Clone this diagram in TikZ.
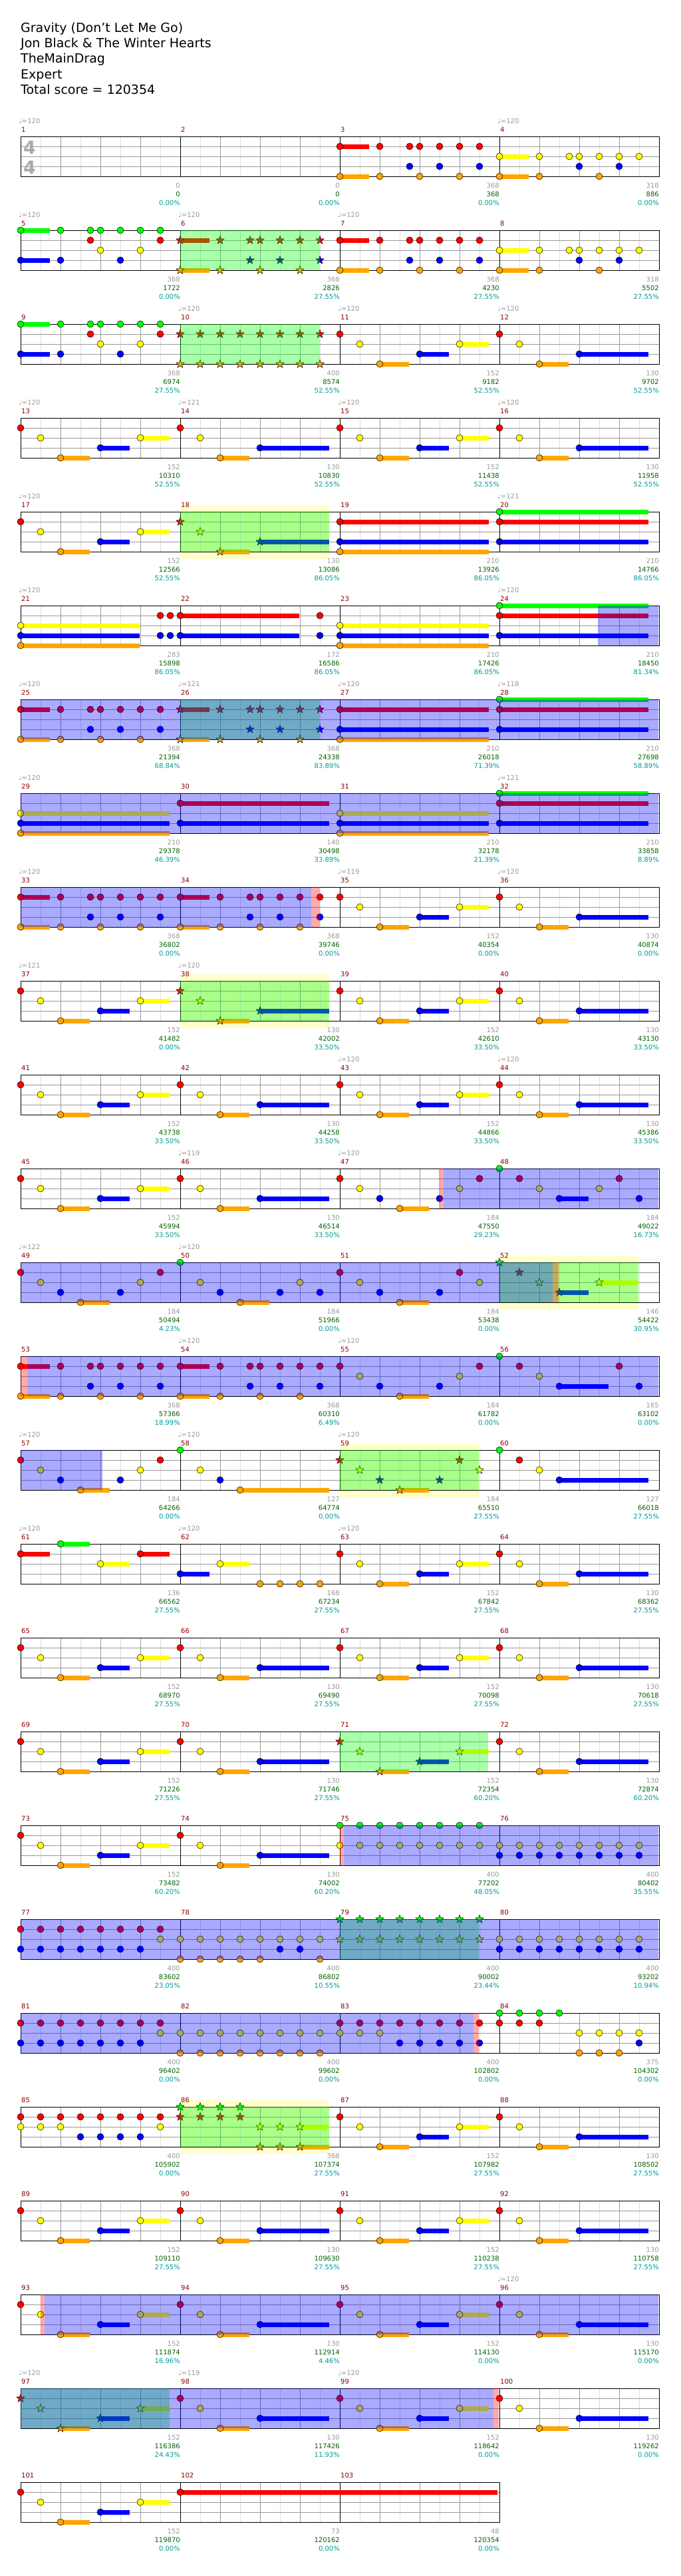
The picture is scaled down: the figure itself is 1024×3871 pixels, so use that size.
\documentclass[tikz,border=0pt]{standalone}
\usepackage{fontspec}
\setmainfont{DejaVu Sans}
\usetikzlibrary{shapes.geometric}

% lane colours: 1 green, 2 red, 3 yellow, 4 blue, 5 orange
\definecolor{lane1}{RGB}{0,255,0}
\definecolor{lane2}{RGB}{255,0,0}
\definecolor{lane3}{RGB}{255,255,0}
\definecolor{lane4}{RGB}{0,0,255}
\definecolor{lane5}{RGB}{255,165,0}
\definecolor{barnum}{RGB}{139,0,0}
\definecolor{basegray}{RGB}{153,153,153}
\definecolor{scoregreen}{RGB}{0,100,0}
\definecolor{pctcyan}{RGB}{0,153,153}
\definecolor{halfgray}{RGB}{221,221,221}
\definecolor{bonusyellow}{RGB}{255,255,204}
\definecolor{sigray}{RGB}{170,170,170}

% star power notes
\newif\ifsp
% note: beat, lane
\newcommand\nt[2]{\ifsp\node[spnote, fill=lane#2] at ({60*#1},{15*#2-15}) {};%
  \else\node[note, fill=lane#2] at ({60*#1},{15*#2-15}) {};\fi}
% sustain: beat, lane, length
\newcommand\sus[3]{\fill[lane#2] ({60*#1},{15*#2-18.5}) rectangle ++({60*#3},7);}
% chord held from beat 0: lanes, length
\newcommand\hold[2]{\foreach \l in {#1}{\sus{0}{\l}{#2}}\foreach \l in {#1}{\nt{0}{\l}}}
% place a measure
\newcommand\M[2]{%
  \pgfmathtruncatemacro\mr{(#1-1)/4}%
  \pgfmathtruncatemacro\mc{mod(#1-1,4)}%
  \begin{scope}[shift={({31+240*\mc},{205+141*\mr})}]#2\end{scope}}

% measure patterns
\newcommand\pA{\sus{0}{2}{.74}\sus{0}{5}{.74}%
  \foreach \b/\l in {0/2,0/5,1/2,1/5,1.75/2,1.75/4,2/2,2/5,2.5/2,2.5/4,3/2,3/5,3.5/2,3.5/4}{\nt{\b}{\l}}}
\newcommand\pB{\sus{0}{3}{.74}\sus{0}{5}{.74}%
  \foreach \b/\l in {0/3,0/5,1/3,1/5,1.75/3,2/3,2/4,2.5/3,2.5/5,3/3,3/4,3.5/3}{\nt{\b}{\l}}}
\newcommand\pC{\sus{0}{1}{.74}\sus{0}{4}{.74}%
  \foreach \b/\l in {0/1,0/4,1/1,1/4,1.75/1,1.75/2,2/1,2/3,2.5/1,2.5/4,3/1,3/3,3.5/1,3.5/2}{\nt{\b}{\l}}}
\newcommand\pD{\foreach \b in {0,0.5,...,3.5}{\nt{\b}{2}\nt{\b}{5}}}
\newcommand\pE{\sus{1}{5}{.74}\sus{2}{4}{.74}\sus{3}{3}{.74}\nt{0}{2}\nt{.5}{3}\nt{1}{5}\nt{2}{4}\nt{3}{3}}
\newcommand\pF{\sus{1}{5}{.74}\sus{2}{4}{1.74}\nt{0}{2}\nt{.5}{3}\nt{1}{5}\nt{2}{4}}
\newcommand\pJ{\sus{1.5}{5}{.74}\foreach \b/\l in {0/2,.5/3,1/4,1.5/5,2.5/4,3/3,3.5/2}{\nt{\b}{\l}}}
\newcommand\pK{\sus{1.5}{4}{.74}\foreach \b/\l in {0/1,.5/2,1/3,1.5/4,2.5/3,3/2,3.5/4}{\nt{\b}{\l}}}
\newcommand\pL{\sus{1.5}{5}{.74}\foreach \b/\l in {0/2,.5/3,1/4,1.5/5,2.5/4,3/2,3.5/3}{\nt{\b}{\l}}}
\newcommand\pGY{\foreach \b in {0,0.5,...,3.5}{\nt{\b}{1}\nt{\b}{3}}}
\newcommand\pYB{\foreach \b in {0,0.5,...,3.5}{\nt{\b}{3}\nt{\b}{4}}}
\newcommand\pYO{\foreach \b in {0,0.5,...,3.5}{\nt{\b}{3}\nt{\b}{5}}}
\newcommand\pRB{\foreach \b in {0,0.5,...,3}{\nt{\b}{2}\nt{\b}{4}}\nt{3.5}{2}\nt{3.5}{3}}
\newcommand\pYBO{\foreach \b in {0,0.5,...,3.5}{\nt{\b}{3}}\foreach \b in {0,0.5,...,2,3.5}{\nt{\b}{5}}\nt{2.5}{4}\nt{3}{4}}

% zones: row, x from, x to
\newcommand\bonuszone[3]{\fill[bonusyellow] (#2,{195+141*#1}) rectangle (#3,{276+141*#1});}
\newcommand\phrasezone[3]{\fill[lane1, fill opacity=.333] (#2,{205+141*#1}) rectangle (#3,{265+141*#1});}
\newcommand\tailzone[3]{\fill[lane2, fill opacity=.333] (#2,{205+141*#1}) rectangle (#3,{265+141*#1});}
\newcommand\actzone[3]{\fill[lane4, fill opacity=.333] (#2,{205+141*#1}) rectangle (#3,{265+141*#1});}

\begin{document}
\begin{tikzpicture}[x=1pt, y=-1pt,
    note/.style={circle, draw=black, line width=0.5pt, minimum size=10pt, inner sep=0pt},
    spnote/.style={star, star points=5, star point ratio=2.4, draw=black, line width=0.5pt, minimum size=13pt, inner sep=0pt},
    halfline/.style={halfgray, line width=0.8pt},
    beatline/.style={basegray, line width=0.8pt},
    barline/.style={black, line width=0.9pt},
    title/.style={anchor=base west, inner sep=0pt, font=\fontsize{19}{19}\selectfont},
    barlabel/.style={anchor=base west, inner sep=0pt, text=barnum, font=\fontsize{10}{12}\selectfont},
    tempolabel/.style={anchor=base west, inner sep=0pt, text=basegray, font=\fontsize{10}{12}\selectfont},
    scorelabel/.style={anchor=base east, inner sep=0pt, font=\fontsize{10}{12}\selectfont},
]
\useasboundingbox[fill=white] (0,0) rectangle (1024,3871);

% Header
\node[title] (song) at (31,48) {Gravity (Don't Let Me Go)};
\node[title] (artist) at (31,71) {Jon Black \& The Winter Hearts};
\node[title] (charter) at (31,94) {TheMainDrag};
\node[title] (diff) at (31,118) {Expert};
\node[title] (total) at (31,141) {Total score = 120354};

% Bonus (yellow) zones, behind the staff
\bonuszone{4}{271}{495}
\bonuszone{9}{271}{495}
\bonuszone{12}{750}{960}
\bonuszone{14}{511}{720}
\bonuszone{21}{271}{495}

% Staff grid
\foreach \r in {0,...,25}{
  \pgfmathtruncatemacro\nm{\r==25 ? 3 : 4}
  \pgfmathtruncatemacro\nb{4*\nm}
  \pgfmathsetmacro\T{205+141*\r}
  \pgfmathsetmacro\xe{31+240*\nm}
  \foreach \k in {1,...,\nb}{
    \draw[halfline] ({31+60*\k-30},\T) -- ++(0,60);
    \draw[beatline] ({31+60*\k},\T) -- ++(0,60);
  }
  \foreach \l in {15,30,45}{\draw[beatline] (31,{\T+\l}) -- (\xe,{\T+\l});}
  \foreach \j in {1,...,\nm}{\draw[barline] ({31+240*\j},\T) -- ++(0,60);}
  \draw[barline] (31,\T) rectangle (\xe,{\T+60});
}

% Time signature
\node[text=sigray, font=\bfseries\fontsize{27}{27}\selectfont] (sigtop) at (44.5,222) {4};
\node[text=sigray, font=\bfseries\fontsize{27}{27}\selectfont] (sigbot) at (44.5,252) {4};

% Notes
\M{3}{\pA} \M{4}{\pB}
\M{5}{\pC} \M{6}{\sptrue\pA} \M{7}{\pA} \M{8}{\pB}
\M{9}{\pC} \M{10}{\sptrue\pD} \M{11}{\pE} \M{12}{\pF}
\M{13}{\pE} \M{14}{\pF} \M{15}{\pE} \M{16}{\pF}
\M{17}{\pE} \M{18}{\sptrue\pF} \M{19}{\hold{2,4,5}{3.74}} \M{20}{\hold{1,2,4}{3.74}}
\M{21}{\hold{3,4,5}{2.99}\nt{3.5}{2}\nt{3.5}{4}\nt{3.75}{2}\nt{3.75}{4}}
\M{22}{\hold{2,4}{2.99}\nt{3.5}{2}\nt{3.5}{4}}
\M{23}{\hold{3,4,5}{3.74}} \M{24}{\hold{1,2,4}{3.74}}
\M{25}{\pA} \M{26}{\sptrue\pA} \M{27}{\hold{2,4,5}{3.74}} \M{28}{\hold{1,2,4}{3.74}}
\M{29}{\hold{3,4,5}{3.74}} \M{30}{\hold{2,4}{3.74}} \M{31}{\hold{3,4,5}{3.74}} \M{32}{\hold{1,2,4}{3.74}}
\M{33}{\pA} \M{34}{\pA} \M{35}{\pE} \M{36}{\pF}
\M{37}{\pE} \M{38}{\sptrue\pF} \M{39}{\pE} \M{40}{\pF}
\M{41}{\pE} \M{42}{\pF} \M{43}{\pE} \M{44}{\pF}
\M{45}{\pE} \M{46}{\pF} \M{47}{\pJ} \M{48}{\pK}
\M{49}{\pJ}
\M{50}{\sus{1.5}{5}{.74}\foreach \b/\l in {0/1,.5/3,1/4,1.5/5,2.5/4,3/3,3.5/4}{\nt{\b}{\l}}}
\M{51}{\pL}
\M{52}{\sptrue\sus{1.5}{4}{.74}\sus{2.5}{3}{.99}\foreach \b/\l in {0/1,.5/2,1/3,1.5/4,2.5/3}{\nt{\b}{\l}}}
\M{53}{\pA} \M{54}{\pA} \M{55}{\pJ}
\M{56}{\sus{1.5}{4}{1.24}\foreach \b/\l in {0/1,.5/2,1/3,1.5/4,3/2,3.5/4}{\nt{\b}{\l}}}
\M{57}{\pJ}
\M{58}{\sus{1.5}{5}{2.24}\foreach \b/\l in {0/1,.5/3,1/4,1.5/5}{\nt{\b}{\l}}}
\M{59}{\sptrue\pL}
\M{60}{\sus{1.5}{4}{2.24}\foreach \b/\l in {0/1,.5/2,1/3,1.5/4}{\nt{\b}{\l}}}
\M{61}{\sus{0}{2}{.74}\sus{1}{1}{.74}\sus{2}{3}{.74}\sus{3}{2}{.74}\nt{0}{2}\nt{1}{1}\nt{2}{3}\nt{3}{2}}
\M{62}{\sus{0}{4}{.74}\sus{1}{3}{.74}\foreach \b/\l in {0/4,1/3,2/5,2.5/5,3/5,3.5/5}{\nt{\b}{\l}}}
\M{63}{\pE} \M{64}{\pF} \M{65}{\pE} \M{66}{\pF}
\M{67}{\pE} \M{68}{\pF} \M{69}{\pE} \M{70}{\pF}
\M{71}{\sptrue\pE} \M{72}{\pF} \M{73}{\pE} \M{74}{\pF}
\M{75}{\pGY} \M{76}{\pYB} \M{77}{\pRB} \M{78}{\pYBO}
\M{79}{\sptrue\pGY} \M{80}{\pYB}
\M{81}{\pRB} \M{82}{\pYO}
\M{83}{\foreach \b in {0,0.5,...,3.5}{\nt{\b}{2}}\foreach \b in {0,.5,1}{\nt{\b}{3}}\foreach \b in {1.5,2,...,3.5}{\nt{\b}{4}}}
\M{84}{\foreach \b in {0,.5,1}{\nt{\b}{1}\nt{\b}{2}}\nt{1.5}{1}\foreach \b in {2,2.5,3}{\nt{\b}{3}\nt{\b}{5}}\nt{3.5}{3}\nt{3.5}{4}}
\M{85}{\foreach \b in {0,0.5,...,3.5}{\nt{\b}{2}}\foreach \b in {0,.5,1,3.5}{\nt{\b}{3}}\foreach \b in {1.5,2,2.5,3}{\nt{\b}{4}}}
\M{86}{\sptrue\sus{3}{3}{.74}\sus{3}{5}{.74}\foreach \b in {0,.5,1,1.5}{\nt{\b}{1}\nt{\b}{2}}\foreach \b in {2,2.5,3}{\nt{\b}{3}\nt{\b}{5}}}
\M{87}{\pE} \M{88}{\pF}
\M{89}{\pE} \M{90}{\pF} \M{91}{\pE} \M{92}{\pF}
\M{93}{\pE} \M{94}{\pF} \M{95}{\pE} \M{96}{\pF}
\M{97}{\sptrue\pE} \M{98}{\pF} \M{99}{\pE} \M{100}{\pF}
\M{101}{\pE} \M{102}{\hold{2}{7.95}}

% Star power phrases
\phrasezone{1}{271}{481}
\phrasezone{2}{271}{481}
\phrasezone{4}{271}{495}
\phrasezone{6}{271}{481}
\phrasezone{9}{271}{495}
\phrasezone{12}{750}{960}
\phrasezone{14}{511}{720}
\phrasezone{17}{511}{734}
\phrasezone{19}{511}{720}
\phrasezone{21}{271}{495}
\phrasezone{24}{31}{255}

% Activation ends
\tailzone{8}{468}{481}
\tailzone{11}{660}{667}
\tailzone{12}{831}{840}
\tailzone{13}{31}{41}
\tailzone{18}{511}{517}
\tailzone{20}{712}{720}
\tailzone{23}{61}{67}
\tailzone{24}{742}{750}

% Star power activations
\actzone{5}{899}{990}
\actzone{6}{31}{990}
\actzone{7}{31}{990}
\actzone{8}{31}{468}
\actzone{11}{667}{990}
\actzone{12}{31}{831}
\actzone{13}{41}{990}
\actzone{14}{31}{154}
\actzone{18}{517}{990}
\actzone{19}{31}{990}
\actzone{20}{31}{712}
\actzone{23}{67}{990}
\actzone{24}{31}{742}

% Measure numbers
\foreach \m in {1,...,103}{
  \pgfmathtruncatemacro\rr{(\m-1)/4}
  \pgfmathtruncatemacro\cc{mod(\m-1,4)}
  \node[barlabel] (bar\m) at ({32+240*\cc},{198+141*\rr}) {\m};
}

% Tempo marks
\foreach \m/\t in {1/120,4/120,5/120,6/120,7/120,10/120,11/120,12/120,13/120,14/121,15/120,16/120,
    17/120,20/121,21/120,24/120,25/120,26/121,27/120,28/118,29/120,32/121,33/120,35/119,36/120,
    37/121,38/120,43/120,44/120,46/119,47/120,49/122,50/120,54/120,55/120,57/120,58/120,59/120,
    61/120,62/120,63/120,96/120,97/120,98/119,99/120}{
  \pgfmathtruncatemacro\rr{(\m-1)/4}
  \pgfmathtruncatemacro\cc{mod(\m-1,4)}
  \node[tempolabel] (tempo\m) at ({28+240*\cc},{185+141*\rr}) {♩=\t};
}

% Scores under each measure
\foreach \m/\g/\s/\p in {1/0/0/0.00,2/0/0/0.00,3/368/368/0.00,4/318/886/0.00,
    5/368/1722/0.00,6/368/2826/27.55,7/368/4230/27.55,8/318/5502/27.55,
    9/368/6974/27.55,10/400/8574/52.55,11/152/9182/52.55,12/130/9702/52.55,
    13/152/10310/52.55,14/130/10830/52.55,15/152/11438/52.55,16/130/11958/52.55,
    17/152/12566/52.55,18/130/13086/86.05,19/210/13926/86.05,20/210/14766/86.05,
    21/283/15898/86.05,22/172/16586/86.05,23/210/17426/86.05,24/210/18450/81.34,
    25/368/21394/68.84,26/368/24338/83.89,27/210/26018/71.39,28/210/27698/58.89,
    29/210/29378/46.39,30/140/30498/33.89,31/210/32178/21.39,32/210/33858/8.89,
    33/368/36802/0.00,34/368/39746/0.00,35/152/40354/0.00,36/130/40874/0.00,
    37/152/41482/0.00,38/130/42002/33.50,39/152/42610/33.50,40/130/43130/33.50,
    41/152/43738/33.50,42/130/44258/33.50,43/152/44866/33.50,44/130/45386/33.50,
    45/152/45994/33.50,46/130/46514/33.50,47/184/47550/29.23,48/184/49022/16.73,
    49/184/50494/4.23,50/184/51966/0.00,51/184/53438/0.00,52/146/54422/30.95,
    53/368/57366/18.99,54/368/60310/6.49,55/184/61782/0.00,56/165/63102/0.00,
    57/184/64266/0.00,58/127/64774/0.00,59/184/65510/27.55,60/127/66018/27.55,
    61/136/66562/27.55,62/168/67234/27.55,63/152/67842/27.55,64/130/68362/27.55,
    65/152/68970/27.55,66/130/69490/27.55,67/152/70098/27.55,68/130/70618/27.55,
    69/152/71226/27.55,70/130/71746/27.55,71/152/72354/60.20,72/130/72874/60.20,
    73/152/73482/60.20,74/130/74002/60.20,75/400/77202/48.05,76/400/80402/35.55,
    77/400/83602/23.05,78/400/86802/10.55,79/400/90002/23.44,80/400/93202/10.94,
    81/400/96402/0.00,82/400/99602/0.00,83/400/102802/0.00,84/375/104302/0.00,
    85/400/105902/0.00,86/368/107374/27.55,87/152/107982/27.55,88/130/108502/27.55,
    89/152/109110/27.55,90/130/109630/27.55,91/152/110238/27.55,92/130/110758/27.55,
    93/152/111874/16.96,94/130/112914/4.46,95/152/114130/0.00,96/130/115170/0.00,
    97/152/116386/24.43,98/130/117426/11.93,99/152/118642/0.00,100/130/119262/0.00,
    101/152/119870/0.00,102/73/120162/0.00,103/48/120354/0.00}{
  \pgfmathtruncatemacro\rr{(\m-1)/4}
  \pgfmathtruncatemacro\cc{mod(\m-1,4)}
  \pgfmathsetmacro\xe{31+240*(\cc+1)}
  \pgfmathsetmacro\yy{205+141*\rr}
  \node[scorelabel, text=basegray] (base\m) at (\xe,{\yy+77}) {\g};
  \node[scorelabel, text=scoregreen] (score\m) at (\xe,{\yy+90}) {\s};
  \node[scorelabel, text=pctcyan] (pct\m) at (\xe,{\yy+103}) {\p\%};
}
\end{tikzpicture}
\end{document}
